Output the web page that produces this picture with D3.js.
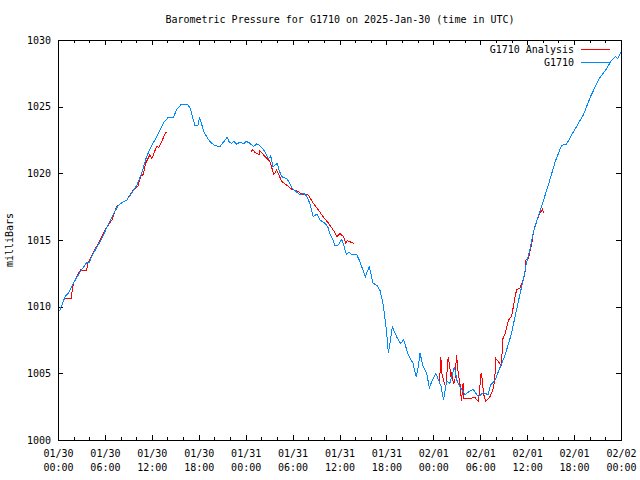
<!DOCTYPE html>
<html>
<head>
<meta charset="utf-8">
<script src="https://cdn.jsdelivr.net/npm/d3@7"></script>
<style>
  html, body { margin: 0; padding: 0; background: #fff; }
  svg { display: block; }
  text { font-family: "DejaVu Sans Mono", "Liberation Mono", monospace; font-size: 10px; fill: #000; }
</style>
</head>
<body>
<svg id="chart" width="640" height="480"></svg>
<script>
// ---- Data (hours after 2025-01-30 00:00 UTC, pressure in mb) ----
const titleText = "Barometric Pressure for G1710 on 2025-Jan-30 (time in UTC)";
const yLabelText = "milliBars";
const seriesNames = ["G1710 Analysis", "G1710"];
const yTicks = [1000, 1005, 1010, 1015, 1020, 1025, 1030];
const xMajorHours = [0, 6, 12, 18, 24, 30, 36, 42, 48, 54, 60, 66, 72];

const stationHours = [0.2,0.5,0.9,1.3,1.75,2.3,3.0,3.67,4.0,4.3,5.0,5.6,6.3,7.07,7.7,8.2,8.8,9.4,10.06,10.7,11.3,11.9,12.4,13.0,13.5,14.1,14.75,15.2,15.8,16.5,16.9,17.5,17.9,18.1,18.7,19.4,20.0,20.7,21.1,21.65,21.9,22.2,22.5,22.85,23.3,23.7,24.1,24.55,25.0,25.4,25.75,26.1,26.5,26.9,27.2,27.5,28.05,28.3,28.6,29.25,29.6,29.9,30.5,30.95,31.4,31.8,32.2,32.65,33.1,33.5,34.15,34.5,34.8,35.1,35.4,35.8,36.3,36.9,37.2,37.55,38.2,38.6,39.3,39.8,40.3,40.8,41.2,41.6,42.0,42.25,42.5,42.75,43.3,43.8,44.2,44.8,45.4,45.8,46.0,46.3,46.7,47.15,47.5,47.8,48.3,48.6,49.0,49.3,49.7,50.1,50.4,50.7,51.0,51.4,52.05,52.5,53.1,53.75,54.4,55.0,55.3,55.9,56.5,57.0,57.5,58.0,58.45,59.1,59.5,59.85,60.4,60.8,61.4,61.9,62.5,62.9,63.6,64.4,65.05,65.9,66.55,67.2,68.1,69.2,70.05,70.7,71.3,71.6,72.0];
const stationPressure = [1009.7,1010.1,1010.75,1011.0,1011.5,1012.1,1012.75,1013.3,1013.3,1013.75,1014.5,1015.1,1016.0,1016.9,1017.6,1017.8,1018.0,1018.5,1019.1,1020.0,1021.2,1022.0,1022.5,1023.2,1023.8,1024.2,1024.2,1024.8,1025.2,1025.2,1024.9,1023.6,1023.6,1024.2,1023.05,1022.4,1022.1,1022.0,1022.3,1022.7,1022.35,1022.25,1022.4,1022.2,1022.35,1022.2,1022.4,1022.25,1022.0,1022.2,1022.1,1021.9,1021.6,1021.1,1021.3,1020.5,1020.75,1020.2,1019.75,1019.6,1019.3,1018.9,1018.6,1018.4,1018.5,1018.3,1017.75,1016.75,1016.95,1016.5,1016.25,1016.0,1015.4,1015.1,1014.6,1014.6,1015.05,1013.9,1014.1,1013.9,1013.9,1013.4,1012.25,1013.0,1011.75,1011.6,1011.2,1010.1,1008.25,1006.5,1007.4,1008.5,1007.75,1007.25,1007.5,1006.4,1005.75,1004.75,1005.2,1006.5,1005.5,1005.0,1003.9,1004.4,1005.0,1004.6,1004.0,1003.0,1004.4,1004.25,1004.8,1005.5,1004.5,1004.0,1003.4,1003.6,1003.8,1003.25,1003.55,1003.4,1004.1,1004.5,1005.4,1006.1,1007.0,1008.0,1009.25,1011.0,1012.0,1013.1,1014.4,1015.6,1016.75,1017.6,1018.75,1019.5,1020.9,1022.1,1022.2,1023.1,1023.75,1024.4,1025.75,1027.1,1027.75,1028.4,1028.75,1028.6,1029.1];

// null marks a gap between analysis runs
const analysisHours = [0.68,0.8,1.66,1.96,2.7,2.9,3.67,3.8,4.7,5.6,6.0,6.9,7.5,8.2,8.8,9.6,10.2,10.6,10.9,11.2,11.75,12.0,12.6,12.9,13.35,13.8,14.0,
  null,
  24.7,24.9,25.2,25.75,25.8,26.5,27.1,27.6,27.97,28.6,29.3,29.9,30.5,31.2,31.9,32.1,32.65,33.3,33.9,34.6,35.2,35.7,36.05,36.5,36.8,37.0,37.8,37.85,
  null,
  48.8,48.95,49.1,49.3,49.6,49.7,49.9,50.1,50.25,50.4,50.55,50.75,50.96,51.2,51.4,51.6,51.8,51.9,52.7,53.3,53.75,53.95,54.1,54.3,54.4,54.7,55.25,55.7,55.9,56.0,56.7,56.9,57.2,57.6,58.0,58.2,58.45,58.65,59.1,59.4,59.7,59.85,60.15,60.6,60.8,61.1,61.6,61.9,62.0,62.05];
const analysisPressure = [1010.4,1010.6,1010.6,1011.75,1012.6,1012.75,1012.7,1013.25,1014.25,1015.25,1015.75,1016.5,1017.5,1017.8,1018.0,1018.75,1019.0,1019.8,1019.9,1020.75,1021.4,1021.1,1022.0,1021.95,1022.5,1023.1,1023.1,
  null,
  1021.6,1021.8,1021.55,1021.4,1021.7,1021.25,1020.9,1019.9,1020.25,1019.4,1019.1,1018.8,1018.7,1018.45,1018.4,1018.3,1017.75,1017.25,1016.75,1016.25,1015.75,1015.25,1015.5,1015.25,1014.75,1014.95,1014.75,1014.7,
  null,
  1004.25,1006.25,1005.0,1004.5,1003.9,1004.75,1006.25,1005.5,1004.75,1005.1,1004.25,1004.4,1006.4,1004.9,1004.25,1002.9,1004.25,1003.1,1003.1,1003.2,1002.9,1004.0,1005.0,1004.4,1003.5,1002.9,1003.25,1003.9,1005.0,1006.1,1005.6,1007.6,1008.0,1009.0,1009.25,1009.9,1010.75,1011.25,1011.4,1011.9,1012.4,1013.5,1013.6,1014.75,1015.6,1016.25,1017.0,1017.25,1017.4,1017.0];

// ---- Layout ----
const W = 640, H = 480;
const m = { left: 58, right: 621, top: 40, bottom: 440 };
const start = new Date(Date.UTC(2025, 0, 30, 0, 0));
const toDate = h => d3.utcMinute.offset(start, Math.round(h * 60));

const x = d3.scaleUtc().domain([toDate(0), toDate(72)]).range([m.left, m.right]);
const y = d3.scaleLinear().domain([1000, 1030]).range([m.bottom, m.top]);

const svg = d3.select("#chart");
svg.append("rect").attr("width", W).attr("height", H).attr("fill", "#fff");

const majorDates = xMajorHours.map(toDate);
const minorDates = d3.utcHour.every(2).range(toDate(0), toDate(72.01)).filter(d => d.getUTCHours() % 6 !== 0);

// minor ticks (bottom & top)
svg.append("g").attr("transform", `translate(0,${m.bottom})`)
  .call(d3.axisBottom(x).tickValues(minorDates).tickSize(-3).tickFormat(""))
  .call(g => g.select(".domain").remove());
svg.append("g").attr("transform", `translate(0,${m.top})`)
  .call(d3.axisTop(x).tickValues(minorDates).tickSize(-3).tickFormat(""))
  .call(g => g.select(".domain").remove());

// major ticks bottom with two-line labels
const fmtDay = d3.utcFormat("%m/%d"), fmtTime = d3.utcFormat("%H:%M");
const xAxis = svg.append("g").attr("transform", `translate(0,${m.bottom})`)
  .call(d3.axisBottom(x).tickValues(majorDates).tickSize(-5).tickPadding(9).tickFormat(""))
  .call(g => g.select(".domain").remove());
xAxis.selectAll(".tick text").each(function(d) {
  const t = d3.select(this).attr("dy", null).attr("y", 0);
  t.append("tspan").attr("x", 0).attr("y", 17).text(fmtDay(d));
  t.append("tspan").attr("x", 0).attr("y", 31).text(fmtTime(d));
});
svg.append("g").attr("transform", `translate(0,${m.top})`)
  .call(d3.axisTop(x).tickValues(majorDates).tickSize(-5).tickFormat(""))
  .call(g => g.select(".domain").remove());

// y ticks
svg.append("g").attr("transform", `translate(${m.left},0)`)
  .call(d3.axisLeft(y).tickValues(yTicks).tickSize(-5).tickPadding(7).tickFormat(d3.format("d")))
  .call(g => g.select(".domain").remove());
svg.append("g").attr("transform", `translate(${m.right},0)`)
  .call(d3.axisRight(y).tickValues(yTicks).tickSize(-5).tickFormat(""))
  .call(g => g.select(".domain").remove());

svg.selectAll(".tick line").attr("stroke", "#000").attr("shape-rendering", "crispEdges");
svg.selectAll(".tick text").attr("fill", "#000").style("font-family", '"DejaVu Sans Mono", monospace').style("font-size", "10px");

// frame
svg.append("rect")
  .attr("x", m.left).attr("y", m.top)
  .attr("width", m.right - m.left).attr("height", m.bottom - m.top)
  .attr("fill", "none").attr("stroke", "#000").attr("shape-rendering", "crispEdges");

// series
const analysisPts = analysisHours.map((h, i) => h == null ? null : [toDate(h), analysisPressure[i]]);
const stationPts = stationHours.map((h, i) => [toDate(h), stationPressure[i]]);
const line = d3.line().defined(d => d != null).x(d => x(d[0])).y(d => y(d[1]));

svg.append("path").datum(analysisPts)
  .attr("d", line).attr("fill", "none").attr("stroke", "#ff0000").attr("stroke-width", 1)
  .attr("shape-rendering", "crispEdges");
svg.append("path").datum(stationPts)
  .attr("d", line).attr("fill", "none").attr("stroke", "#0088ff").attr("stroke-width", 1)
  .attr("shape-rendering", "crispEdges");

// title & y label
svg.append("text").attr("x", 340).attr("y", 23).attr("text-anchor", "middle").text(titleText);
svg.append("text").attr("transform", "translate(13,240) rotate(-90)").attr("text-anchor", "middle").text(yLabelText);

// legend
const legColors = ["#ff0000", "#0088ff"];
seriesNames.forEach((name, i) => {
  const ly = 49 + i * 13.5;
  svg.append("text").attr("x", 574).attr("y", ly + 3.5).attr("text-anchor", "end").text(name);
  svg.append("line").attr("x1", 581).attr("x2", 610).attr("y1", ly).attr("y2", ly)
    .attr("stroke", legColors[i]).attr("stroke-width", 1).attr("shape-rendering", "crispEdges");
});
</script>
</body>
</html>
